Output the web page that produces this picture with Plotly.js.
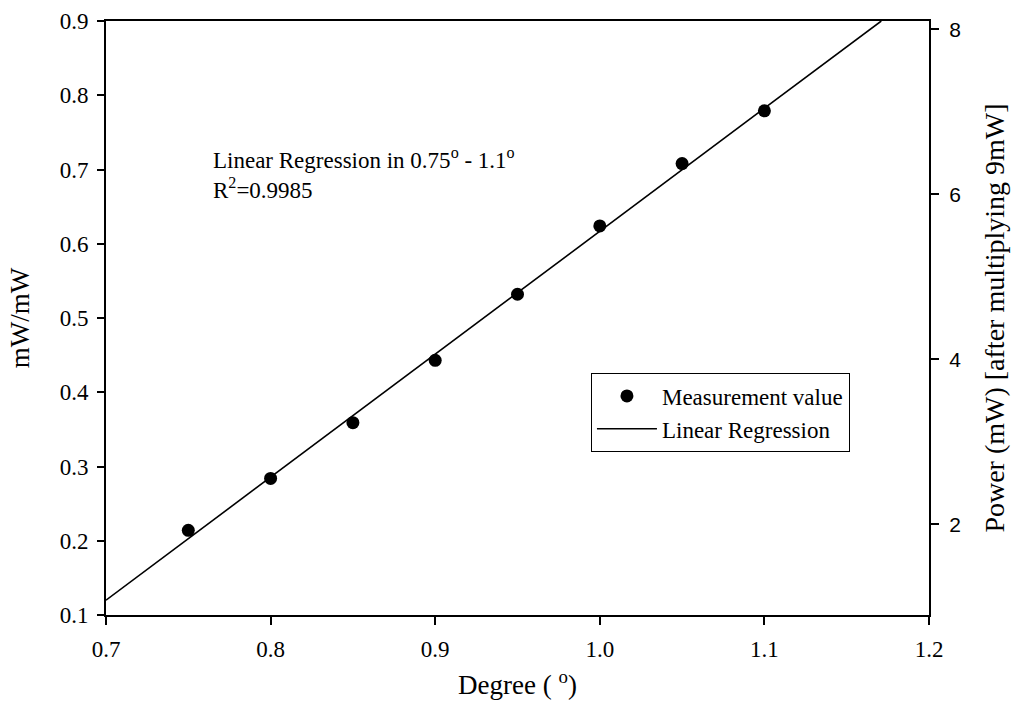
<!DOCTYPE html>
<html>
<head>
<meta charset="utf-8">
<script src="https://cdn.plot.ly/plotly-3.0.1.min.js"></script>
<style>html,body{margin:0;padding:0;background:#fff;}#chart{width:1024px;height:708px;}</style>
</head>
<body>
<div id="chart"></div>
<script>
// Measured data (degree vs normalized power mW/mW)
const degrees = [0.75, 0.80, 0.85, 0.90, 0.95, 1.00, 1.05, 1.10];
const ratio = [0.214, 0.284, 0.359, 0.443, 0.532, 0.624, 0.708, 0.779];
// Regression line endpoints
const fitX = [0.70, 1.171];
const fitY = [0.120, 0.900];
const powerFactor = 9; // right axis: power after multiplying 9 mW
const powerValues = ratio.map(v => v * powerFactor);

const xTicks = [0.7, 0.8, 0.9, 1.0, 1.1, 1.2];
const yTicks = [0.1, 0.2, 0.3, 0.4, 0.5, 0.6, 0.7, 0.8, 0.9];
const y2Ticks = [2, 4, 6, 8];

const serif = 'Liberation Serif, Times New Roman, serif';
const sans = 'Liberation Sans, Arial, sans-serif';

const traces = [
  {
    x: degrees, y: ratio, type: 'scatter', mode: 'markers',
    name: 'Measurement value',
    marker: {color: '#000', size: 13, symbol: 'circle'},
    hoverinfo: 'x+y'
  },
  {
    x: fitX, y: fitY, type: 'scatter', mode: 'lines',
    name: 'Linear Regression',
    line: {color: '#000', width: 1.6}
  },
  {
    x: degrees, y: powerValues, type: 'scatter', mode: 'markers',
    yaxis: 'y2', showlegend: false, hoverinfo: 'skip',
    marker: {opacity: 0, size: 1}
  }
];

const layout = {
  width: 1024, height: 708,
  margin: {l: 106, r: 95, t: 21, b: 93},
  paper_bgcolor: '#fff', plot_bgcolor: '#fff',
  font: {family: serif, color: '#000', size: 23},
  showlegend: true,
  xaxis: {
    range: [0.7, 1.2], tickvals: xTicks, tickformat: '.1f',
    showgrid: false, zeroline: false,
    showline: true, linecolor: '#000', linewidth: 2, mirror: true,
    ticks: 'outside', ticklen: 8, tickwidth: 2, tickcolor: '#000',
    ticklabelstandoff: 4,
    tickfont: {family: serif, size: 23},
    title: {text: 'Degree ( <sup>o</sup>)', font: {family: serif, size: 27}, standoff: 15}
  },
  yaxis: {
    range: [0.1, 0.9], tickvals: yTicks, tickformat: '.1f',
    showgrid: false, zeroline: false,
    showline: true, linecolor: '#000', linewidth: 2,
    ticks: 'outside', ticklen: 7, tickwidth: 2, tickcolor: '#000',
    ticklabelstandoff: 4,
    tickfont: {family: serif, size: 23},
    title: {text: 'mW/mW', font: {family: serif, size: 27}, standoff: 22}
  },
  yaxis2: {
    overlaying: 'y', side: 'right', anchor: 'x',
    range: [0.9, 8.1], tickvals: y2Ticks,
    showgrid: false, zeroline: false,
    showline: true, linecolor: '#000', linewidth: 2,
    ticks: 'outside', ticklen: 8, tickwidth: 2, tickcolor: '#000',
    ticklabelstandoff: 6,
    tickfont: {family: sans, size: 21},
    title: {text: 'Power (mW) [after multiplying 9mW]', font: {family: serif, size: 28}, standoff: 24}
  },
  legend: {
    x: 0.589, y: 0.407, xanchor: 'left', yanchor: 'top',
    bgcolor: '#fff', bordercolor: '#000', borderwidth: 1.2,
    font: {family: serif, size: 23},
    itemwidth: 60, tracegroupgap: 0
  },
  annotations: [
    {
      xref: 'paper', yref: 'paper', x: 0.128, y: 0.797,
      xanchor: 'left', yanchor: 'top', align: 'left', showarrow: false,
      text: 'Linear Regression in 0.75<sup>o</sup> - 1.1<sup>o</sup><br>R<sup>2</sup>=0.9985',
      font: {family: serif, size: 23, color: '#000'}
    }
  ]
};

Plotly.newPlot('chart', traces, layout, {displayModeBar: false, staticPlot: true});
</script>
</body>
</html>
